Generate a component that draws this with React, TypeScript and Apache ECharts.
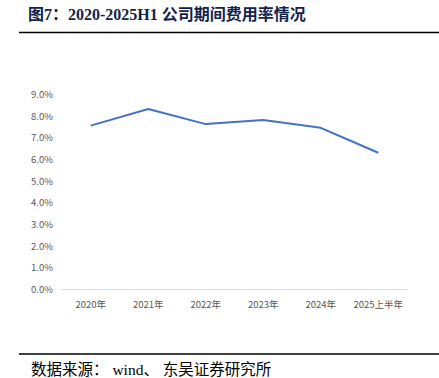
import React, { useEffect, useRef } from "react";
import * as echarts from "echarts";

const categories = ["2020年", "2021年", "2022年", "2023年", "2024年", "2025上半年"];
const expenseRate = [7.54, 8.31, 7.61, 7.8, 7.44, 6.29];
const titleText = "图7：2020-2025H1 公司期间费用率情况";
const sourceText = "数据来源： wind、 东吴证券研究所";

export default function App() {
  const ref = useRef<HTMLDivElement>(null);
  useEffect(() => {
    if (!ref.current) return;
    const chart = echarts.init(ref.current, null, { renderer: "svg" });
    chart.setOption({
      animation: false,
      backgroundColor: "#ffffff",
      grid: { left: 62, right: 32, top: 94, bottom: 89 },
      xAxis: {
        type: "category",
        data: categories,
        boundaryGap: true,
        axisLine: { lineStyle: { color: "#d9d9d9" } },
        axisTick: { show: false },
        axisLabel: { color: "#595959", fontSize: 9.5, margin: 10, interval: 0, fontFamily: "Noto Sans CJK SC" },
      },
      yAxis: {
        type: "value",
        min: 0,
        max: 9,
        interval: 1,
        splitLine: { show: false },
        axisLine: { show: false },
        axisTick: { show: false },
        axisLabel: {
          color: "#595959",
          fontSize: 9.5,
          margin: 9,
          fontFamily: "Noto Sans CJK SC",
          formatter: (v: number) => v.toFixed(1) + "%",
        },
      },
      series: [
        {
          type: "line",
          data: expenseRate,
          symbol: "none",
          lineStyle: { color: "#4472c4", width: 2 },
        },
      ],
      graphic: [
        {
          type: "text",
          left: 28,
          top: 6,
          style: {
            text: titleText,
            fontSize: 16,
            fontWeight: "bold",
            fontFamily: "Liberation Serif, Noto Sans CJK SC",
            fill: "#14234a",
          },
        },
        {
          type: "line",
          shape: { x1: 19, y1: 32.5, x2: 439, y2: 32.5 },
          style: { stroke: "#000000", lineWidth: 1.5 },
        },
        {
          type: "line",
          shape: { x1: 19, y1: 354, x2: 439, y2: 354 },
          style: { stroke: "#000000", lineWidth: 1.5 },
        },
        {
          type: "text",
          left: 31,
          top: 362,
          style: {
            text: sourceText,
            fontSize: 15.5,
            fontFamily: "Liberation Serif, Noto Sans CJK SC",
            fill: "#000000",
          },
        },
      ],
    });
    return () => chart.dispose();
  }, []);
  return (
    <div
      ref={ref}
      style={{ position: "absolute", left: 0, top: 0, width: 439, height: 378 }}
    />
  );
}
